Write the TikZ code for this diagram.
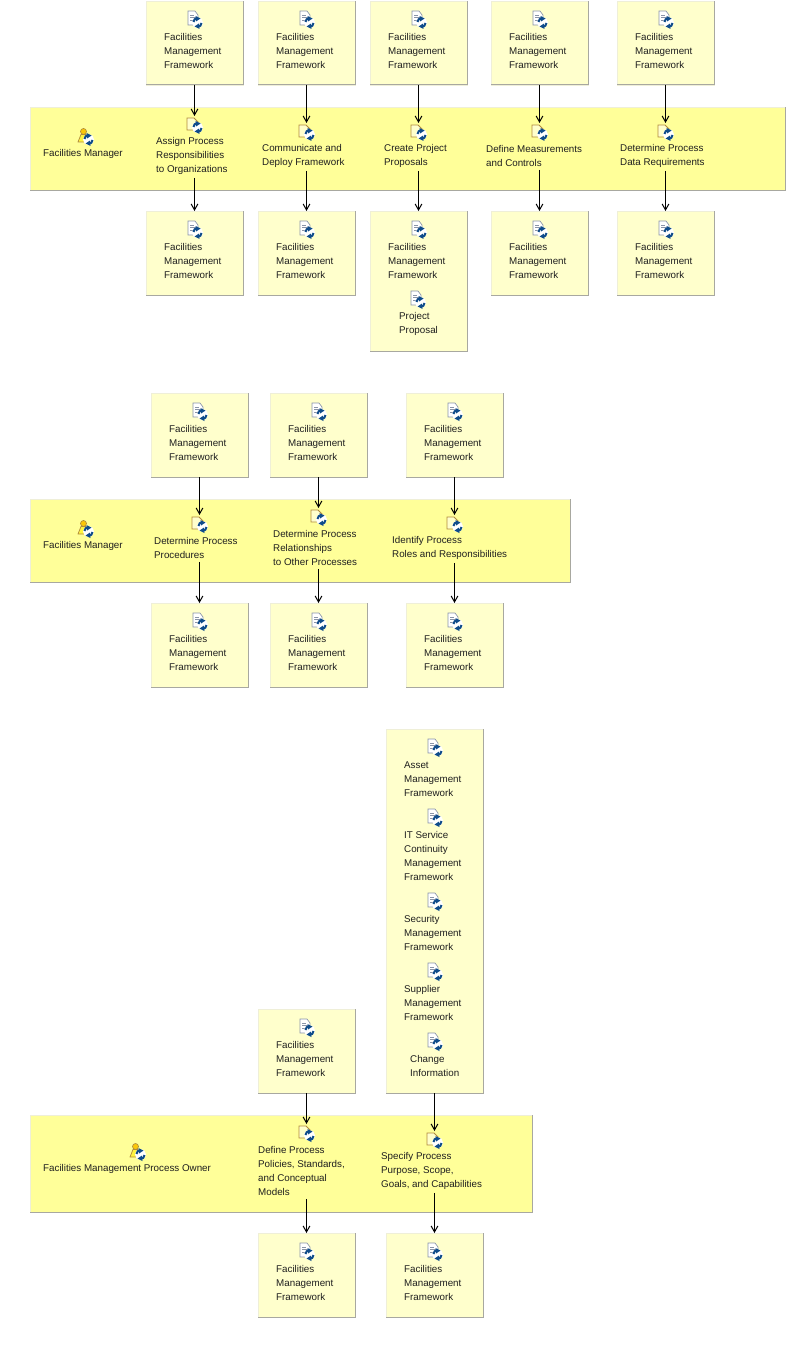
\documentclass[tikz,border=0pt]{standalone}
\usepackage{fontspec}
\setmainfont{Liberation Sans}
\usetikzlibrary{arrows.meta}
\definecolor{boxfill}{HTML}{FFFFCC}
\definecolor{lanefill}{HTML}{FFFF99}
\definecolor{edgegray}{HTML}{A8A8A0}
\definecolor{edgelight}{HTML}{EFEFD8}
\definecolor{badgeblue}{HTML}{0F4C8A}
\definecolor{tanline}{HTML}{B08A3C}
\definecolor{docline}{HTML}{8A94A8}
\tikzset{
  boxst/.style={fill=boxfill,draw=edgelight,line width=0.5pt,inner sep=0pt,outer sep=0pt},
  lanest/.style={fill=lanefill,draw=edgelight,line width=0.5pt,inner sep=0pt,outer sep=0pt},
  shade line/.style={draw=edgegray,line width=0.75pt},
  lbl/.style={anchor=west,align=left,inner sep=0pt,outer sep=2.4pt,text=black!88,
    font=\fontsize{7.35pt}{10.5pt}\selectfont},
  iconst/.style={minimum size=12pt,inner sep=0pt,outer sep=0pt},
  arr/.style={-{Straight Barb[length=4.5pt,width=5pt]},black,line width=0.75pt},
}
\newcommand{\rectnode}[6]{%
  \pgfmathsetmacro\rw{(#5-#3)*0.75}\pgfmathsetmacro\rh{(#6-#4)*0.75}%
  \node[#2,minimum width=\rw pt,minimum height=\rh pt] (#1) at ({(#3+#5)/2},{(#4+#6)/2}) {};
  \draw[shade line] (#1.south west) -- (#1.south east) -- (#1.north east);
}
\newcommand{\badge}{%
  \fill[white] (3.5,3.5) circle (5.5);
  \draw[badgeblue,line width=1.5pt] (-0.5,3) arc[start angle=180,end angle=90,x radius=4,y radius=-4];
  \draw[badgeblue,line width=1.5pt] (7.5,4) arc[start angle=0,end angle=-90,x radius=4,y radius=-4];
  \fill[badgeblue] (1.5,-3) -- (6.5,-0.5) -- (2,2.5) -- cycle;
  \fill[badgeblue] (5.5,10) -- (0.5,7.5) -- (5,4.5) -- cycle;
}
\newcommand{\docicon}[3]{%
  \node[iconst] (#1) at (#2,#3) {};
  \begin{scope}[shift={(#2,#3)}]
    \draw[docline,fill=white,line width=0.5pt] (-6,-8) -- (1,-8) -- (4,-4) -- (4,6) -- (-6,6) -- cycle;
    \draw[docline,line width=0.4pt] (-4,-4) -- (0,-4) (-4,-1.5) -- (2,-1.5) (-4,1) -- (0,1);
    \badge
  \end{scope}
}
\newcommand{\taskicon}[3]{%
  \node[iconst] (#1) at (#2,#3) {};
  \begin{scope}[shift={(#2,#3)}]
    \draw[tanline,fill=boxfill,line width=0.6pt] (-7,-6) -- (0,-6) -- (5,-1) -- (5,6) -- (-7,6) -- cycle;
    \badge
  \end{scope}
}
\newcommand{\roleicon}[3]{%
  \node[iconst] (#1) at (#2,#3) {};
  \begin{scope}[shift={(#2,#3)}]
    \draw[tanline,fill=yellow!60!orange,line width=0.5pt] (-1.5,-4.5) circle (3);
    \draw[tanline,fill=yellow!75,line width=0.5pt] (-7,6) -- (-4,-1.5) -- (1,-1.5) -- (3,6) -- cycle;
    \badge
  \end{scope}
}
% standard "Facilities Management Framework" box: name, left, top
\newcommand{\fmbox}[3]{%
  \rectnode{#1}{boxst}{#2}{#3}{#2+97}{#3+84}
  \docicon{#1i}{#2+48}{#3+18}
  \node[lbl] (#1t) at (#2+15,#3+50) {Facilities\\Management\\Framework};
}
\begin{document}
\begin{tikzpicture}[x=0.75pt,y=-0.75pt]
\useasboundingbox (0,0) rectangle (806,1359);
% ---------- lane 1
\rectnode{laneA}{lanest}{30}{107}{785}{190}
\roleicon{rA}{85}{136}
\node[lbl] (rAt) at (40,154) {Facilities Manager};
\fmbox{a1}{146}{1}\fmbox{a2}{258}{1}\fmbox{a3}{370}{1}\fmbox{a4}{491}{1}\fmbox{a5}{617}{1}
\taskicon{ta1}{194}{124}\taskicon{ta2}{306}{131}\taskicon{ta3}{418}{131}\taskicon{ta4}{539}{131}\taskicon{ta5}{665}{131}
\node[lbl] (ta1t) at (153,156) {Assign Process\\Responsibilities\\to Organizations};
\node[lbl] (ta2t) at (259,156) {Communicate and\\Deploy Framework};
\node[lbl] (ta3t) at (381,156) {Create Project\\Proposals};
\node[lbl] (ta4t) at (483,156) {Define Measurements\\and Controls};
\node[lbl] (ta5t) at (617,156) {Determine Process\\Data Requirements};
\fmbox{c1}{146}{211}\fmbox{c2}{258}{211}\fmbox{c4}{491}{211}\fmbox{c5}{617}{211}
\rectnode{c3}{boxst}{370}{211}{467}{351}
\docicon{c3i}{418}{229}
\node[lbl] (c3t) at (385,261) {Facilities\\Management\\Framework};
\docicon{c3j}{417}{299}
\node[lbl] (c3u) at (396,324) {Project\\Proposal};
\foreach \n in {1,...,5}{
  \draw[arr] (a\n.south) -- (a\n.south |- ta\n.north);
  \draw[arr] (c\n.north |- ta\n t.south) -- (c\n.north);
}
% ---------- lane 2
\rectnode{laneB}{lanest}{30}{499}{570}{582}
\roleicon{rB}{85}{528}
\node[lbl] (rBt) at (40,546) {Facilities Manager};
\fmbox{d1}{151}{393}\fmbox{d2}{270}{393}\fmbox{d3}{406}{393}
\taskicon{tb1}{199}{523}\taskicon{tb2}{318}{516}\taskicon{tb3}{454}{523}
\node[lbl] (tb1t) at (151,548) {Determine Process\\Procedures};
\node[lbl] (tb2t) at (270,548) {Determine Process\\Relationships\\to Other Processes};
\node[lbl] (tb3t) at (389,548) {Identify Process\\Roles and Responsibilities};
\fmbox{e1}{151}{603}\fmbox{e2}{270}{603}\fmbox{e3}{406}{603}
\foreach \n in {1,2,3}{
  \draw[arr] (d\n.south) -- (d\n.south |- tb\n.north);
  \draw[arr] (e\n.north |- tb\n t.south) -- (e\n.north);
}
% ---------- lane 3
\rectnode{laneC}{lanest}{30}{1115}{532}{1212}
\roleicon{rC}{137}{1151}
\node[lbl] (rCt) at (40,1169) {Facilities Management Process Owner};
\fmbox{f1}{258}{1009}
\rectnode{f2}{boxst}{386}{729}{483}{1093}
\docicon{f2a}{434}{747}
\node[lbl] (f2at) at (401,779) {Asset\\Management\\Framework};
\docicon{f2b}{434}{817}
\node[lbl] (f2bt) at (401,856) {IT Service\\Continuity\\Management\\Framework};
\docicon{f2c}{434}{901}
\node[lbl] (f2ct) at (401,933) {Security\\Management\\Framework};
\docicon{f2d}{434}{971}
\node[lbl] (f2dt) at (401,1003) {Supplier\\Management\\Framework};
\docicon{f2e}{434}{1041}
\node[lbl] (f2et) at (407,1066) {Change\\Information};
\taskicon{tc1}{306}{1132}\taskicon{tc2}{434}{1139}
\node[lbl] (tc1t) at (255,1171) {Define Process\\Policies, Standards,\\and Conceptual\\Models};
\node[lbl] (tc2t) at (378,1171) {Specify Process\\Purpose, Scope,\\Goals, and Capabilities};
\fmbox{g1}{258}{1233}\fmbox{g2}{386}{1233}
\foreach \n in {1,2}{
  \draw[arr] (f\n.south) -- (f\n.south |- tc\n.north);
  \draw[arr] (g\n.north |- tc\n t.south) -- (g\n.north);
}
\end{tikzpicture}
\end{document}
